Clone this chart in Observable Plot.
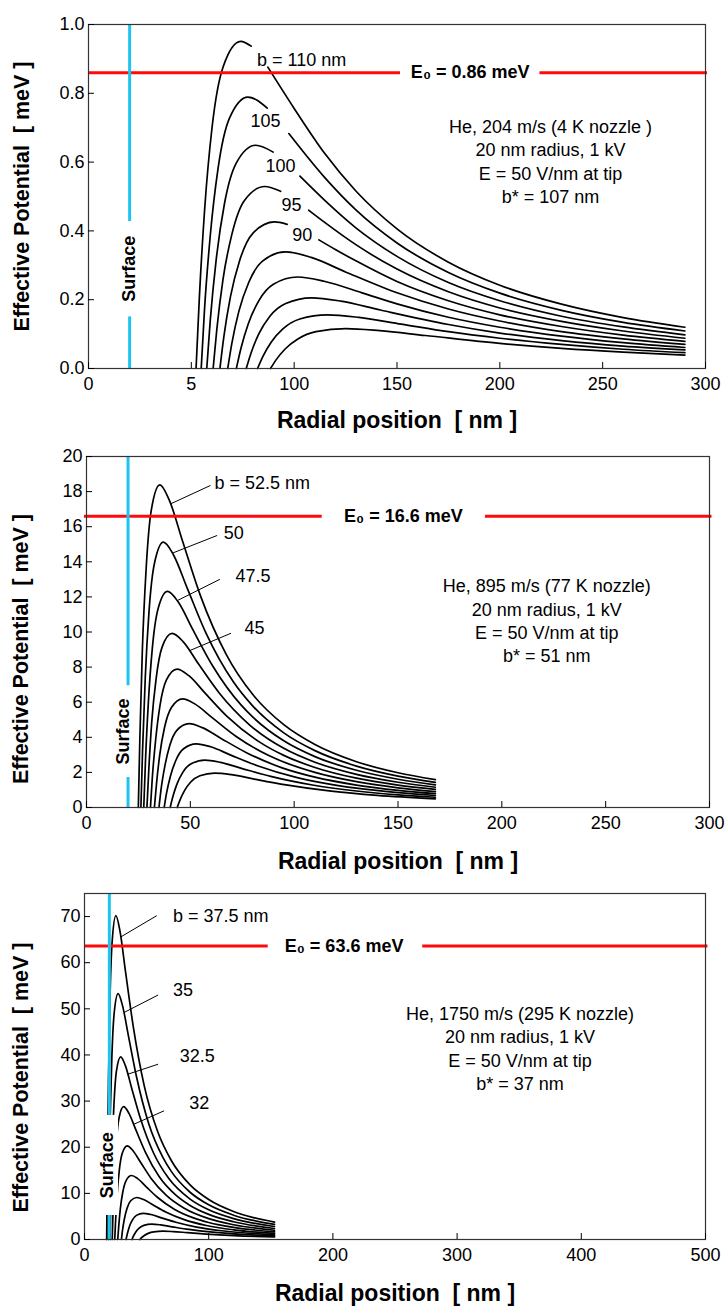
<!DOCTYPE html>
<html><head><meta charset="utf-8">
<script src="https://cdn.jsdelivr.net/npm/d3@7"></script>
<script src="https://cdn.jsdelivr.net/npm/@observablehq/plot@0.6"></script>
<style>
body{margin:0;background:#fff;}
#chart{width:726px;}
#chart svg{display:block;}
</style></head><body><div id="chart"></div>
<script>
const FONT = "'Liberation Sans', Arial, Helvetica, sans-serif";

// ---------- Panel 1 : He 204 m/s ----------
const p1XTicks = [0, 50, 100, 150, 200, 250, 300];
const p1XTickLabels = ["0", "5", "100", "150", "200", "250", "300"];
const p1YTicks = [0, 0.2, 0.4, 0.6, 0.8, 1.0];
const p1B = [110, 105, 100, 95, 90, 85, 80, 75, 70, 65];
const p1Curves = [
  [[52.3,0],[53.9,0.206],[56.5,0.465],[60.1,0.702],[65.4,0.876],[74.0,0.951],[79.1,0.937],null,[87.2,0.876],[100,0.756],[115,0.624],[130,0.516],[150,0.406],[175,0.309],[200,0.242],[230,0.187],[260,0.148],[290,0.120]],
  [[54.8,0],[56.4,0.171],[59.2,0.386],[63.0,0.582],[68.5,0.727],[77.5,0.789],[86.9,0.757],null,[97.4,0.683],[115,0.554],[130,0.461],[150,0.365],[175,0.279],[200,0.219],[230,0.169],[260,0.134],[290,0.109]],
  [[57.5,0],[59.2,0.140],[62.1,0.317],[66.1,0.479],[71.9,0.598],[81.3,0.649],[89.8,0.629],null,[102.8,0.559],[115,0.488],[130,0.409],[150,0.326],[175,0.250],[200,0.197],[230,0.152],[260,0.121],[290,0.098]],
  [[60.6,0],[62.4,0.114],[65.4,0.259],[69.7,0.390],[75.75,0.488],[85.7,0.529],[93.4,0.515],null,[107.1,0.460],[115,0.424],[130,0.360],[150,0.289],[175,0.223],[200,0.176],[230,0.137],[260,0.109],[290,0.088]],
  [[63.9,0],[65.8,0.092],[69.0,0.208],[73.5,0.314],[79.9,0.393],[90.4,0.426],[96.6,0.419],null,[112,0.374],[120,0.346],[130,0.313],[150,0.253],[175,0.197],[200,0.156],[230,0.122],[260,0.097],[290,0.079]],
  [[67.7,0],[69.7,0.073],[73.1,0.166],[77.9,0.250],[84.6,0.312],[95.7,0.339],[108.3,0.323],[125.2,0.280],[150,0.220],[175,0.173],[200,0.138],[230,0.107],[260,0.086],[290,0.070]],
  [[71.9,0],[74.1,0.058],[77.7,0.130],[82.7,0.196],[89.9,0.245],[101.7,0.266],[115.0,0.253],[133.0,0.220],[150,0.188],[175,0.149],[200,0.120],[230,0.094],[260,0.075],[290,0.061]],
  [[76.7,0],[79.0,0.0445],[82.8,0.1005],[88.2,0.152],[95.9,0.189],[108.5,0.2055],[122.7,0.196],[141.9,0.170],[175,0.128],[200,0.103],[230,0.081],[260,0.065],[290,0.054]],
  [[82.2,0],[84.7,0.0338],[88.8,0.0763],[94.5,0.115],[102.75,0.144],[116.2,0.156],[131.5,0.1485],[152.1,0.129],[175,0.107],[200,0.088],[230,0.070],[260,0.056],[290,0.046]],
  [[88.5,0],[91.2,0.0251],[95.6,0.0567],[101.8,0.0856],[110.6,0.107],[125.2,0.116],[141.6,0.110],[163.7,0.096],[200,0.073],[230,0.0585],[260,0.0475],[290,0.039]]
];
const p1E0 = 0.86;
const p1E0Text = "E\u2080 = 0.86 meV";
const p1E0Segments = [[0, 151.7], [219.5, 301]];
const p1E0TextAt = [185.6, 0.86];
const p1SurfaceSegments = [[0, 0.15], [0.427, 1.0]];
const p1SurfaceTextAt = [20, 0.29];
const p1Labels = [
  {t: "b = 110 nm", r: 103.6, v: 0.896},
  {t: "105", r: 86.1, v: 0.720},
  {t: "100", r: 93.4, v: 0.589},
  {t: "95", r: 98.7, v: 0.476},
  {t: "90", r: 103.9, v: 0.386}
];
const p1Info = ["He, 204 m/s (4 K nozzle )", "20 nm radius, 1 kV", "E = 50 V/nm at tip", "b* = 107 nm"];
const p1InfoAt = [224.6, 0.605];

// ---------- Panel 2 : He 895 m/s ----------
const p2XTicks = [0, 50, 100, 150, 200, 250, 300];
const p2XTickLabels = ["0", "50", "100", "150", "200", "250", "300"];
const p2YTicks = [0, 2, 4, 6, 8, 10, 12, 14, 16, 18, 20];
const p2B = [52.5, 50, 47.5, 45, 42.5, 40, 37.5, 35, 32.5, 30];
const p2Curves = [
  [[24.95,0],[25.7,3.98],[26.9,8.99],[28.7,13.56],[31.2,16.94],[35.3,18.38],[39.9,17.50],[46.2,15.20],[54.9,12.06],[67.4,8.70],[80,6.45],[95,4.72],[110,3.59],[130,2.61],[150,1.98],[168,1.59]],
  [[26.2,0],[27.0,3.27],[28.3,7.39],[30.1,11.16],[32.75,13.93],[37.05,15.12],[41.9,14.39],[48.5,12.50],[57.6,9.92],[70.7,7.16],[80,5.79],[95,4.25],[110,3.24],[130,2.36],[150,1.79],[168,1.43]],
  [[27.58,0],[28.4,2.66],[29.8,6.02],[31.7,9.08],[34.5,11.34],[39.0,12.31],[44.1,11.72],[51.0,10.18],[60.7,8.08],[74.5,5.83],[80,5.16],[95,3.80],[110,2.90],[130,2.12],[150,1.61],[168,1.29]],
  [[29.1,0],[30.0,2.15],[31.4,4.85],[33.5,7.32],[36.4,9.14],[41.2,9.92],[46.6,9.44],[53.8,8.20],[64.0,6.51],[78.6,4.70],[95,3.37],[110,2.58],[130,1.89],[150,1.44],[168,1.155]],
  [[30.8,0],[31.7,1.71],[33.3,3.86],[35.4,5.82],[38.5,7.27],[43.6,7.89],[49.3,7.51],[57.0,6.53],[67.8,5.18],[83.2,3.74],[95,2.97],[110,2.28],[130,1.67],[150,1.28],[168,1.03]],
  [[32.7,0],[33.7,1.34],[35.3,3.03],[37.6,4.57],[40.9,5.70],[46.3,6.19],[52.3,5.89],[60.5,5.12],[71.9,4.06],[88.3,2.93],[110,2.00],[130,1.47],[150,1.12],[168,0.905]],
  [[34.9,0],[35.9,1.03],[37.7,2.34],[40.1,3.53],[43.6,4.41],[49.4,4.78],[55.8,4.55],[64.6,3.95],[76.8,3.14],[94.2,2.26],[110,1.73],[130,1.28],[150,0.98],[168,0.79]],
  [[37.4,0],[38.5,0.79],[40.4,1.78],[43.0,2.68],[46.75,3.35],[52.9,3.63],[59.8,3.46],[69.2,3.00],[82.3,2.38],[101.0,1.72],[115,1.375],[130,1.10],[150,0.85],[168,0.685]],
  [[40.3,0],[41.5,0.58],[43.5,1.32],[46.3,1.99],[50.4,2.49],[57.0,2.70],[64.5,2.57],[74.6,2.23],[88.7,1.77],[108.8,1.28],[130,0.94],[150,0.72],[168,0.585]],
  [[43.66,0],[45.0,0.42],[47.2,0.96],[50.2,1.45],[54.6,1.81],[61.7,1.96],[69.9,1.87],[80.8,1.62],[96.1,1.29],[117.9,0.93],[140,0.688],[168,0.494]]
];
const p2E0 = 16.6;
const p2E0Text = "E\u2080 = 16.6 meV";
const p2E0Segments = [[-1, 113.5], [192.1, 301.2]];
const p2E0TextAt = [152.6, 16.6];
const p2SurfaceSegments = [[0, 1.71], [6.94, 20]];
const p2SurfaceTextAt = [17.9, 4.33];
const p2Labels = [
  {t: "b = 52.5 nm", r: 61.6, v: 18.45},
  {t: "50", r: 66.1, v: 15.6},
  {t: "47.5", r: 71.7, v: 13.16},
  {t: "45", r: 76.1, v: 10.23}
];
const p2Leaders = [[40.5, 17.3, 59.7, 18.35], [41.5, 14.5, 62.9, 15.5], [43.9, 11.8, 64.2, 13.0], [49.7, 8.94, 69.6, 9.93]];
const p2Info = ["He, 895 m/s (77 K nozzle)", "20 nm radius, 1 kV", "E = 50 V/nm at tip", "b* = 51 nm"];
const p2InfoAt = [221.6, 10.69];

// ---------- Panel 3 : He 1750 m/s ----------
const p3XTicks = [0, 100, 200, 300, 400, 500];
const p3XTickLabels = ["0", "100", "200", "300", "400", "500"];
const p3YTicks = [0, 10, 20, 30, 40, 50, 60, 70];
const p3B = [37.5, 35, 32.5, 30, 27.5, 25, 22.5, 20, 17.5, 15];
const p3Curves = [
  [[17.85,0],[18.4,15.2],[19.3,34.3],[20.5,51.8],[22.3,64.7],[25.24,70.2],[28.6,66.8],[33.0,58.1],[39.3,46.1],[48.2,33.2],[58.9,23.4],[70,17.07],[85,11.83],[100,8.66],[120,6.07],[136,4.75],[153,3.77]],
  [[19.12,0],[19.7,11.5],[20.65,26.1],[22.0,39.3],[23.9,49.1],[27.04,53.3],[30.6,50.7],[35.4,44.1],[42.1,35.0],[51.6,25.2],[63.1,17.8],[70,14.71],[85,10.24],[100,7.51],[120,5.27],[153,3.28]],
  [[20.59,0],[21.2,8.57],[22.2,19.4],[23.7,29.2],[25.7,36.5],[29.12,39.6],[32.9,37.7],[38.1,32.7],[45.3,26.0],[55.6,18.75],[67.9,13.2],[85,8.75],[100,6.43],[120,4.53],[153,2.82]],
  [[22.31,0],[23.0,6.23],[24.1,14.1],[25.7,21.3],[27.9,26.5],[31.54,28.8],[35.7,27.4],[41.3,23.8],[49.1,18.9],[60.2,13.6],[73.6,9.6],[85,7.38],[100,5.44],[120,3.84],[153,2.39]],
  [[24.33,0],[25.1,4.39],[26.3,9.93],[28.0,15.0],[30.4,18.7],[34.4,20.3],[38.9,19.3],[45.0,16.8],[53.5,13.3],[65.7,9.61],[80.3,6.77],[100,4.52],[120,3.20],[153,2.00]],
  [[26.77,0],[27.6,3.0],[28.9,6.78],[30.8,10.24],[33.5,12.78],[37.85,13.87],[42.8,13.2],[49.5,11.47],[58.9,9.10],[72.3,6.57],[88.3,4.63],[100,3.69],[120,2.62],[153,1.65]],
  [[29.74,0],[30.6,1.97],[32.1,4.45],[34.2,6.72],[37.2,8.39],[42.06,9.10],[47.6,8.66],[55.0,7.53],[65.4,5.97],[80.3,4.31],[98.1,3.04],[120,2.10],[153,1.32]],
  [[33.46,0],[34.5,1.23],[36.1,2.78],[38.5,4.19],[41.8,5.23],[47.3,5.68],[53.5,5.41],[61.9,4.70],[73.6,3.73],[90.3,2.69],[110.4,1.89],[153,1.035]],
  [[38.24,0],[39.4,0.72],[41.3,1.63],[44.0,2.46],[47.8,3.07],[54.1,3.33],[61.2,3.17],[70.7,2.75],[84.1,2.18],[103.2,1.58],[126.2,1.11],[153,0.78]],
  [[44.61,0],[45.9,0.39],[48.2,0.88],[51.3,1.33],[55.8,1.66],[63.1,1.80],[71.4,1.71],[82.5,1.49],[98.1,1.18],[120.4,0.85],[153,0.56]]
];
const p3E0 = 63.6;
const p3E0Text = "E\u2080 = 63.6 meV";
const p3E0Segments = [[0, 147.9], [272.3, 502]];
const p3E0TextAt = [209, 63.6];
const p3SurfaceSegments = [[0, 5.2], [26.9, 75]];
const p3SurfaceTextAt = [18.5, 16.1];
const p3SurfaceBox = [10.5, 27.4, 5.2, 26.9];
const p3Labels = [
  {t: "b = 37.5 nm", r: 71.2, v: 70.0},
  {t: "35", r: 71.2, v: 54.1},
  {t: "32.5", r: 76.7, v: 39.75},
  {t: "32", r: 84.3, v: 29.6}
];
const p3Leaders = [[29.3, 65.6, 58.2, 70.2], [31.8, 49.2, 59.3, 53.0], [34.6, 35.8, 59.3, 38.0], [39.9, 25.0, 64.1, 27.9]];
const p3Info = ["He, 1750 m/s (295 K nozzle)", "20 nm radius, 1 kV", "E = 50 V/nm at tip", "b* = 37 nm"];
const p3InfoAt = [350.7, 41.6];

const surfaceRadius = 20;
const xTitle = "Radial position\u00a0 [ nm ]";
const yTitle = "Effective Potential\u00a0 [ meV ]";

function makePanel(o) {
  const rows = [];
  o.curves.forEach((pts, i) => pts.forEach(p => rows.push(p ? {c: o.b[i], r: p[0], v: p[1]} : {c: o.b[i], r: NaN, v: NaN})));
  const marks = [
    Plot.line(rows, {x: "r", y: "v", z: "c", curve: "monotone-x", stroke: "#000", strokeWidth: 1.7})
  ];
  if (o.box) marks.push(Plot.rect([o.box], {x1: d => d[0], x2: d => d[1], y1: d => d[2], y2: d => d[3], fill: "white"}));
  marks.push(
    Plot.ruleY(o.e0Segments, {y: () => o.e0, x1: d => d[0], x2: d => d[1], stroke: "#ff0a0a", strokeWidth: 3}),
    Plot.ruleX(o.surfaceSegments, {x: () => surfaceRadius, y1: d => d[0], y2: d => d[1], stroke: "#1ec4f0", strokeWidth: 3}),
    Plot.text([o.e0Text], {x: () => o.e0TextAt[0], y: () => o.e0TextAt[1], text: d => d, fontWeight: "bold", fontSize: 18}),
    Plot.text(["Surface"], {x: () => o.surfaceTextAt[0], y: () => o.surfaceTextAt[1], text: d => d, rotate: -90, textAnchor: "middle", lineAnchor: "middle", fontWeight: "bold", fontSize: 18}),
    Plot.text(o.labels, {x: "r", y: "v", text: "t", textAnchor: o.labelAnchor, fontSize: 18}),
    Plot.text([o.info.join("\n")], {x: () => o.infoAt[0], y: () => o.infoAt[1], text: d => d, lineHeight: 1.3, fontSize: 18, textAnchor: "middle", lineAnchor: "middle"}),
    Plot.frame({stroke: "#333", strokeWidth: 1.2}),
    Plot.axisX(o.xTicks, {tickSize: -6, tickPadding: 15, tickFormat: d => o.xTickLabels[o.xTicks.indexOf(d)], fontSize: 18, label: null}),
    Plot.axisY(o.yTicks, {tickSize: -6, tickPadding: 10, tickFormat: o.yFormat, fontSize: 18, label: null}),
    Plot.text([xTitle], {frameAnchor: "bottom", dy: o.xTitleDy, text: d => d, textAnchor: "middle", lineAnchor: "middle", fontWeight: "bold", fontSize: 23}),
    Plot.text([yTitle], {frameAnchor: "left", dx: o.yTitleDx, dy: o.yTitleDy, text: d => d, rotate: -90, textAnchor: "middle", lineAnchor: "middle", fontWeight: "bold", fontSize: 21.5})
  );
  if (o.leaders) marks.push(Plot.link(o.leaders, {x1: d => d[0], y1: d => d[1], x2: d => d[2], y2: d => d[3], stroke: "#000", strokeWidth: 1}));
  return Plot.plot({
    width: 726, height: o.height,
    marginTop: o.mt, marginBottom: o.mb, marginLeft: o.ml, marginRight: o.mr,
    x: {domain: o.xDomain, label: null},
    y: {domain: o.yDomain, label: null},
    style: {fontFamily: FONT, background: "white", color: "#000", overflow: "visible"},
    marks
  });
}

const chart = document.getElementById("chart");
chart.appendChild(makePanel({
  b: p1B, curves: p1Curves, e0: p1E0, e0Text: p1E0Text, e0Segments: p1E0Segments, e0TextAt: p1E0TextAt,
  surfaceSegments: p1SurfaceSegments, surfaceTextAt: p1SurfaceTextAt, labels: p1Labels, labelAnchor: "middle",
  info: p1Info, infoAt: p1InfoAt, xTicks: p1XTicks, xTickLabels: p1XTickLabels, yTicks: p1YTicks,
  yFormat: d3.format(".1f"), xDomain: [0, 300], yDomain: [0, 1],
  height: 440, mt: 24, mb: 72, ml: 88, mr: 21, xTitleDy: 52, yTitleDx: -66, yTitleDy: 0
}));
chart.appendChild(makePanel({
  b: p2B, curves: p2Curves, e0: p2E0, e0Text: p2E0Text, e0Segments: p2E0Segments, e0TextAt: p2E0TextAt,
  surfaceSegments: p2SurfaceSegments, surfaceTextAt: p2SurfaceTextAt, labels: p2Labels, labelAnchor: "start",
  leaders: p2Leaders, info: p2Info, infoAt: p2InfoAt, xTicks: p2XTicks, xTickLabels: p2XTickLabels, yTicks: p2YTicks,
  yFormat: d3.format("d"), xDomain: [0, 300], yDomain: [0, 20],
  height: 436, mt: 16, mb: 69, ml: 86, mr: 17, xTitleDy: 54, yTitleDx: -65, yTitleDy: 17
}));
chart.appendChild(makePanel({
  b: p3B, curves: p3Curves, e0: p3E0, e0Text: p3E0Text, e0Segments: p3E0Segments, e0TextAt: p3E0TextAt,
  surfaceSegments: p3SurfaceSegments, surfaceTextAt: p3SurfaceTextAt, box: p3SurfaceBox, labels: p3Labels, labelAnchor: "start",
  leaders: p3Leaders, info: p3Info, infoAt: p3InfoAt, xTicks: p3XTicks, xTickLabels: p3XTickLabels, yTicks: p3YTicks,
  yFormat: d3.format("d"), xDomain: [0, 500], yDomain: [0, 75],
  height: 431, mt: 17, mb: 68, ml: 84, mr: 21, xTitleDy: 54, yTitleDx: -63, yTitleDy: 11
}));
</script>
</body></html>
